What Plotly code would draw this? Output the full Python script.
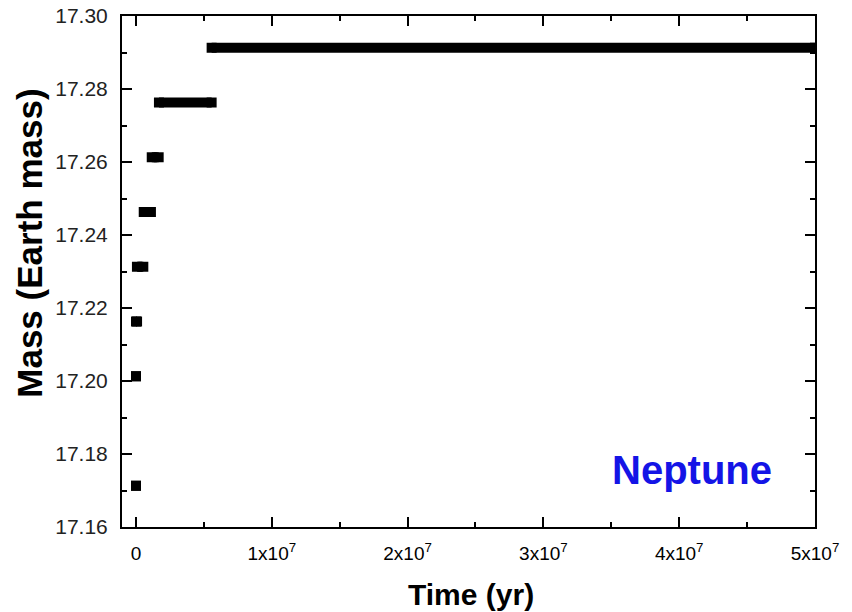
import plotly.graph_objects as go

# Data
mass_levels = [17.1713, 17.2013, 17.2163, 17.2313, 17.2463, 17.2613, 17.2763, 17.2913]
time_start = [0.0, 0.0, 0.0, 0.07e6, 0.57e6, 1.16e6, 1.69e6, 5.57e6]
time_end = [0.0, 0.0, 0.08e6, 0.54e6, 1.10e6, 1.67e6, 5.57e6, 5.0e7]

x_tickvals = [0, 1e7, 2e7, 3e7, 4e7, 5e7]
x_ticktext = ["0", "1x10<sup>7</sup>", "2x10<sup>7</sup>", "3x10<sup>7</sup>",
              "4x10<sup>7</sup>", "5x10<sup>7</sup>"]
y_tickvals = [17.16, 17.18, 17.20, 17.22, 17.24, 17.26, 17.28, 17.30]
y_ticktext = ["17.16", "17.18", "17.20", "17.22", "17.24", "17.26", "17.28", "17.30"]

xs, ys = [], []
for m, s, e in zip(mass_levels, time_start, time_end):
    xs += [s, e, None]
    ys += [m, m, None]

FONT = "Liberation Sans, Arial, sans-serif"

fig = go.Figure()
fig.add_trace(go.Scatter(
    x=xs, y=ys, mode="lines+markers",
    line=dict(color="black", width=10),
    marker=dict(symbol="square", size=10, color="black", line=dict(width=0)),
    connectgaps=False, showlegend=False, hoverinfo="skip",
))

axis_common = dict(
    showline=True, linecolor="black", linewidth=2, mirror="ticks",
    ticks="inside", ticklen=10, tickwidth=2, tickcolor="black",
    showgrid=False, zeroline=False, automargin=False,
)

fig.update_xaxes(
    range=[-1.03e6, 5.0e7], tickmode="array", tickvals=x_tickvals, ticktext=x_ticktext,
    minor=dict(ticks="inside", ticklen=5, tickwidth=2, tickcolor="black", dtick=5e6,
               tick0=0, showgrid=False),
    tickfont=dict(family=FONT, size=19, color="black"),
    ticklabelstandoff=8,
    **axis_common,
)
fig.update_yaxes(
    range=[17.16, 17.30], tickmode="array", tickvals=y_tickvals, ticktext=y_ticktext,
    minor=dict(ticks="inside", ticklen=5, tickwidth=2, tickcolor="black", dtick=0.01,
               tick0=17.16, showgrid=False),
    tickfont=dict(family=FONT, size=21, color="#222222"),
    ticklabelstandoff=8,
    **axis_common,
)

# Axis titles (placed as annotations to match the reference's offsets)
fig.add_annotation(
    text="<b>Time (yr)</b>", xref="paper", yref="paper", x=0.504, y=-0.133,
    showarrow=False, xanchor="center", yanchor="middle",
    font=dict(family=FONT, size=30, color="black"),
)
fig.add_annotation(
    text="<b>Mass (Earth mass)</b>", xref="paper", yref="paper", x=-0.133, y=0.556,
    showarrow=False, xanchor="center", yanchor="middle", textangle=-90,
    font=dict(family=FONT, size=35, color="black"),
)

fig.add_annotation(
    text="<b>Neptune</b>", xref="paper", yref="paper", x=0.823, y=0.111,
    showarrow=False, xanchor="center", yanchor="middle",
    font=dict(family=FONT, size=40, color="#1414e6"),
)

fig.update_layout(
    width=852, height=612,
    margin=dict(l=122, r=37, t=16, b=85),
    plot_bgcolor="white", paper_bgcolor="white",
)

fig.write_html("out.html")
